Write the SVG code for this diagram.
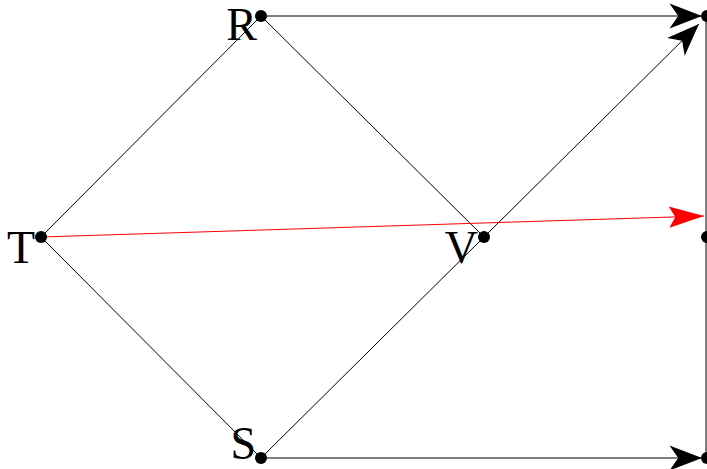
<svg xmlns="http://www.w3.org/2000/svg" width="707" height="469" viewBox="0 0 707 469">
<style>
.e{stroke:#000;stroke-width:1;fill:none}
.r{stroke:#f00;stroke-width:1;fill:none}
.d{fill:#000}
.l{font-family:"Liberation Serif",serif;font-size:46px;fill:#000;text-anchor:end}
</style>
<defs>
<marker id="ab" markerUnits="userSpaceOnUse" markerWidth="40" markerHeight="40" viewBox="-30 -15 32 30" refX="0" refY="0" orient="auto">
<path d="M0,0 L-26,-10 L-19,0 L-26,10 z" fill="#000"/>
</marker>
<marker id="ar" markerUnits="userSpaceOnUse" markerWidth="40" markerHeight="40" viewBox="-30 -15 32 30" refX="0" refY="0" orient="auto">
<path d="M0,0 L-28,-8.5 L-23,0 L-28,8.5 z" fill="#f00"/>
</marker>
</defs>
<g id="connectors">
<line class="e" x1="41" y1="237" x2="261" y2="16"/>
<line class="e" x1="41" y1="237" x2="261" y2="458"/>
<line class="e" x1="261" y1="16" x2="484" y2="237"/>
<line class="e" x1="261" y1="458" x2="484" y2="237"/>
<line class="e" x1="484" y1="237" x2="699" y2="24" marker-end="url(#ab)"/>
<line class="e" x1="261" y1="16" x2="702" y2="16" marker-end="url(#ab)"/>
<line class="e" x1="261" y1="458" x2="702" y2="458" marker-end="url(#ab)"/>
<line class="e" x1="706" y1="16" x2="706" y2="458"/>
<line class="r" x1="41" y1="237" x2="704" y2="216" marker-end="url(#ar)"/>
</g>
<g id="R"><circle class="d" cx="261" cy="16" r="6"/><text class="l" x="257" y="40">R</text></g>
<g id="T"><circle class="d" cx="41" cy="237" r="6"/><text class="l" x="35" y="263">T</text></g>
<g id="V"><circle class="d" cx="484" cy="237" r="6"/><text class="l" x="478" y="263">V</text></g>
<g id="S"><circle class="d" cx="261" cy="458" r="6"/><text class="l" x="256" y="459">S</text></g>
<g id="N1"><circle class="d" cx="707" cy="16" r="6"/></g>
<g id="N2"><circle class="d" cx="707" cy="237" r="6"/></g>
<g id="N3"><circle class="d" cx="707" cy="458" r="6"/></g>
</svg>
